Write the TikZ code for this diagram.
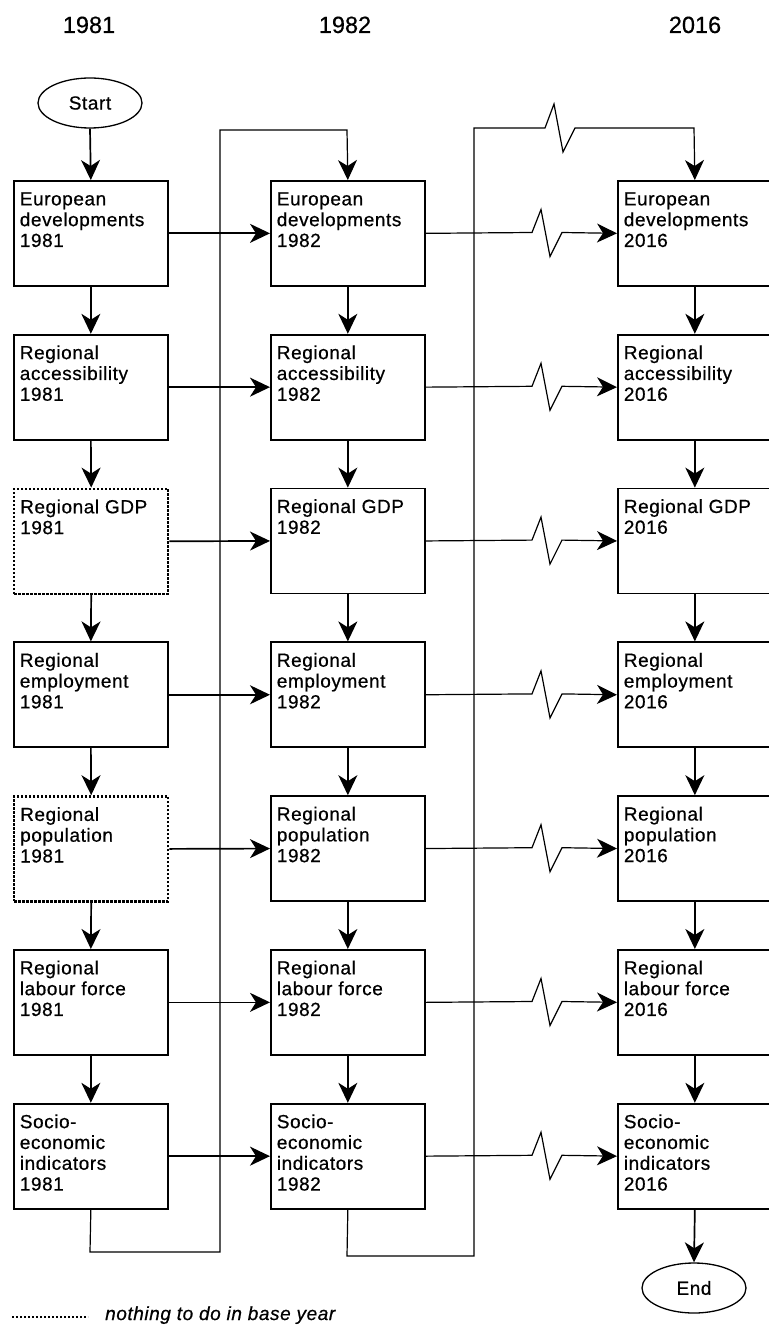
\documentclass[tikz,border=0pt]{standalone}
\usepackage{fontspec}
\setmainfont{Liberation Sans}[FakeBold=0.5]
\newfontfamily\boxfont{Liberation Sans}[LetterSpace=3,FakeBold=0.6]
\usetikzlibrary{arrows.meta,shapes.geometric}
\newcommand\bt[1]{\parbox[c][105pt][t]{154pt}{\raggedright\leftskip=6pt\parindent=0pt\rule{0pt}{24.5pt}#1}}
\tikzset{
  box/.style={draw, line width=1.7pt, rectangle, anchor=north west, inner sep=0pt,
    minimum width=154pt, minimum height=105pt,
    font=\boxfont\fontsize{19}{20.8}\selectfont},
  dotbox/.style={box, solid, dash pattern=on 2.4pt off 1.6pt, line width=2.4pt},
  term/.style={draw, ellipse, line width=1.3pt, inner sep=0pt,
    minimum width=104pt, minimum height=50pt,
    font=\boxfont\fontsize{19}{20.8}\selectfont},
  title/.style={anchor=base, font=\fontsize{23.5}{27}\selectfont},
  tip/.style={-{Stealth[length=20pt,width=19pt,inset=6pt]}},
  conn/.style={line width=1.7pt, tip},
  zig/.style={line width=1.2pt, line join=miter, tip},
  loopline/.style={line width=1.2pt, tip},
}
\begin{document}
\begin{tikzpicture}[x=1pt,y=-1pt]
\useasboundingbox (0,0) rectangle (768,1329);
\fill[white] (0,0) rectangle (768,1329);

\node[title] (t1) at (89,33) {1981};
\node[title] (t2) at (345,33) {1982};
\node[title] (t3) at (695,33) {2016};

\node[term] (start) at (90,103) {Start};

% column 1981
\node[box]    (a1) at (13,180)   {\bt{European\\developments\\1981}};
\node[box]    (a2) at (13,333.8) {\bt{Regional\\accessibility\\1981}};
\node[dotbox] (a3) at (13,487.6) {\bt{Regional GDP\\1981}};
\node[box]    (a4) at (13,641.4) {\bt{Regional\\employment\\1981}};
\node[dotbox] (a5) at (13,795.2) {\bt{Regional\\population\\1981}};
\node[box]    (a6) at (13,949)   {\bt{Regional\\labour force\\1981}};
\node[box]    (a7) at (13,1102.8){\bt{Socio-\\economic\\indicators\\1981}};

% column 1982
\node[box] (b1) at (270,180)   {\bt{European\\developments\\1982}};
\node[box] (b2) at (270,333.8) {\bt{Regional\\accessibility\\1982}};
\node[box] (b3) at (270,487.6) {\bt{Regional GDP\\1982}};
\node[box] (b4) at (270,641.4) {\bt{Regional\\employment\\1982}};
\node[box] (b5) at (270,795.2) {\bt{Regional\\population\\1982}};
\node[box] (b6) at (270,949)   {\bt{Regional\\labour force\\1982}};
\node[box] (b7) at (270,1102.8){\bt{Socio-\\economic\\indicators\\1982}};

% column 2016
\node[box] (c1) at (617,180)   {\bt{European\\developments\\2016}};
\node[box] (c2) at (617,333.8) {\bt{Regional\\accessibility\\2016}};
\node[box] (c3) at (617,487.6) {\bt{Regional GDP\\2016}};
\node[box] (c4) at (617,641.4) {\bt{Regional\\employment\\2016}};
\node[box] (c5) at (617,795.2) {\bt{Regional\\population\\2016}};
\node[box] (c6) at (617,949)   {\bt{Regional\\labour force\\2016}};
\node[box] (c7) at (617,1102.8){\bt{Socio-\\economic\\indicators\\2016}};

\node[term] (end) at (694,1288) {End};

% loop-back lines
\coordinate (p1) at (90,1252);
\coordinate (p2) at (220,1252);
\coordinate (p3) at (220,130);
\coordinate (p4) at (347,130);
\draw[loopline] (a7.south) -- (p1) -- (p2) -- (p3) -- (p4) -- (b1.north);

\coordinate (q1) at (347,1256);
\coordinate (q2) at (474,1256);
\coordinate (q3) at (474,128);
\coordinate (q4) at (545,128);
\coordinate (q5) at (554,104);
\coordinate (q6) at (563,152);
\coordinate (q7) at (575,128);
\coordinate (q8) at (694,128);
\draw[loopline] (b7.south) -- (q1) -- (q2) -- (q3) -- (q4) -- (q5) -- (q6) -- (q7) -- (q8) -- (c1.north);

% vertical arrows
\draw[conn] (start.south) -- (a1.north);
\foreach \i [evaluate=\i as \j using int(\i+1)] in {1,...,6} {
  \draw[conn] (a\i.south) -- (a\j.north);
  \draw[conn] (b\i.south) -- (b\j.north);
  \draw[conn] (c\i.south) -- (c\j.north);
}
\draw[conn] (c7.south) -- (end.north);

% horizontal arrows
\foreach \i in {1,...,7} {
  \draw[conn] (a\i.east) -- (b\i.west);
  \pgfmathsetmacro\ym{180+153.8*(\i-1)+52.5}
  \draw[zig] (b\i.east) -- (532,\ym) -- (541,\ym-23) -- (550,\ym+24) -- (562,\ym) -- (c\i.west);
}

% legend
\draw[line width=2.4pt, dash pattern=on 2.4pt off 1.6pt] (12,1317) -- (88,1317);
\node[anchor=base west, inner sep=0pt, font=\boxfont\itshape\fontsize{19}{20.8}\selectfont] (leg) at (105,1320) {nothing to do in base year};
\end{tikzpicture}
\end{document}
